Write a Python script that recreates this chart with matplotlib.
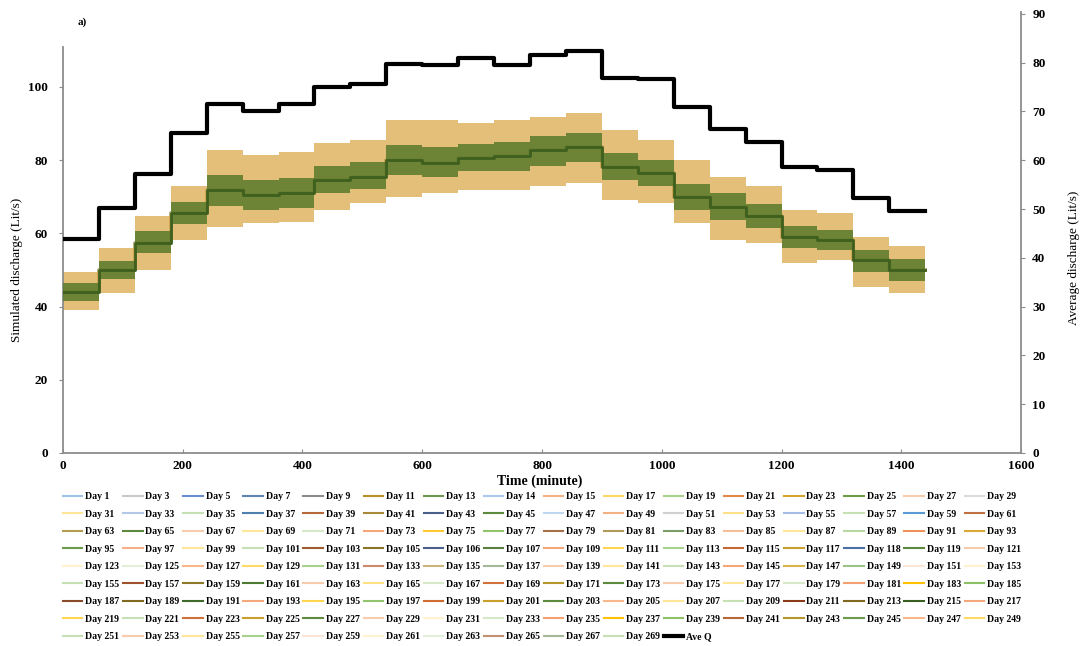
import matplotlib
matplotlib.use("Agg")
import matplotlib.pyplot as plt
import numpy as np

# ── Data (hourly blocks of the 24 h day) ──────────────────────────────────────
HOUR_EDGES = np.arange(0, 1441, 60)          # minute at which each hour starts (+ end)

# simulated discharge (Lit/s), spread across days per hour
SIM_LOW    = [39.1, 43.7, 50.0, 58.2, 61.8, 62.8, 63.2, 66.4, 68.3, 70.0, 71.0, 71.9,
              71.9, 72.8, 73.7, 69.1, 68.3, 62.8, 58.2, 57.4, 51.9, 52.7, 45.4, 43.6]
SIM_CORE_L = [41.5, 47.5, 54.5, 62.5, 67.5, 66.5, 67.0, 71.0, 72.0, 76.0, 75.5, 77.0,
              77.0, 78.5, 79.5, 74.5, 73.0, 66.5, 63.5, 61.5, 56.0, 55.5, 49.5, 47.0]
SIM_MEAN   = [44.1, 50.0, 57.4, 65.6, 71.9, 70.5, 71.0, 74.6, 75.5, 80.1, 79.2, 80.5,
              81.0, 82.8, 83.7, 78.2, 76.4, 70.0, 67.3, 64.6, 59.1, 58.2, 52.7, 50.0]
SIM_CORE_H = [46.5, 52.5, 60.5, 68.5, 76.0, 74.5, 75.0, 78.5, 79.5, 84.0, 83.5, 84.5,
              85.0, 86.5, 87.5, 82.0, 80.0, 73.5, 71.0, 68.0, 62.0, 61.0, 55.5, 53.0]
SIM_HIGH   = [49.5, 56.0, 64.6, 72.8, 82.8, 81.4, 82.3, 84.7, 85.5, 91.0, 91.0, 90.0,
              91.0, 91.9, 92.8, 88.3, 85.5, 80.0, 75.5, 72.8, 66.4, 65.5, 59.1, 56.4]

# average discharge (right axis)
AVE_Q = [43.9, 50.2, 57.1, 65.5, 71.5, 70.0, 71.5, 75.0, 75.7, 79.7, 79.5, 80.9,
         79.5, 81.5, 82.4, 76.9, 76.6, 71.0, 66.4, 63.8, 58.6, 58.0, 52.2, 49.5]

DAYS = list(range(1, 14, 2)) + [14] + list(range(15, 106, 2)) + [106] + \
       list(range(107, 118, 2)) + [118] + list(range(119, 270, 2))

# legend line colours, in legend (row-major) order
DAY_COLORS = [
    "#9DC3E6", "#C9C9C9", "#698ED0", "#5F86B0", "#8C8C8C", "#B8902A", "#6E9653", "#A9C8EC",
    "#F4B183", "#FFD966", "#A9D18E", "#E0884A", "#D4A52A", "#6F9A4A", "#F8CBAD", "#DBDBDB",
    "#FFE699", "#B4C7E7", "#C5E0B4", "#4F7FAE", "#B5683A", "#A8893A", "#4A5F8C", "#5E8A3E",
    "#BDD7EE", "#F4B183", "#D0D0D0", "#FFE08A", "#A4BCE6", "#C5E0B4", "#5B9BD5", "#C0703F",
    "#B39B4F", "#5E8A3E", "#F8CBAD", "#FFE699", "#D5E8C8", "#F4A77A", "#FFC933", "#92C46E",
    "#A9714A", "#B09A5A", "#7A9E68", "#F7BE9A", "#FFE699", "#B7D8A0", "#EE915A", "#D9A933",
    "#6D9B4C", "#F5B08A", "#FFE699", "#C5E0B4", "#9E5B2E", "#8C7427", "#4A5F8C", "#5B7F3F",
    "#F4A77A", "#FFD54F", "#A9D18E", "#C56A35", "#C9A02E", "#4A6FA5", "#5E8A3E", "#F8CBAD",
    "#FFF2CC", "#E2F0D9", "#F8B88B", "#FFD966", "#A9D18E", "#C98B6A", "#C9B47A", "#A4B89A",
    "#F8CBAD", "#FFE699", "#C5E0B4", "#F4A77A", "#D9B44A", "#9BC287", "#FBE5D6", "#FFF2CC",
    "#C5E0B4", "#A0522D", "#8C7A2A", "#4F7A33", "#F8CBAD", "#FFE082", "#D5E8C8", "#D0703A",
    "#B8962E", "#5E8A3E", "#F8CBAD", "#FFE699", "#D5E8C8", "#F4A070", "#FFC000", "#8CC168",
    "#8B4A2A", "#7F6A20", "#3F6A2A", "#F4A77A", "#FFD54F", "#92C46E", "#D06A30", "#C9A02E",
    "#5E8A3E", "#F8B88B", "#FFE699", "#C5E0B4", "#8B3A1A", "#7F6A20", "#3A5F22", "#F4A77A",
    "#FFD54F", "#C5E0B4", "#D0703A", "#C9A02E", "#5E8A3E", "#F8CBAD", "#FFF2CC", "#D5E8C8",
    "#F4A070", "#FFC000", "#8CC168", "#B5683A", "#B8962E", "#6D9B4C", "#F8B88B", "#FFD966",
    "#C5E0B4", "#F8CBAD", "#FFE699", "#A9D18E", "#FBE5D6", "#FFF2CC", "#E2F0D9", "#C09070",
    "#A4B89A", "#C5E0B4",
]

# ── Style ─────────────────────────────────────────────────────────────────────
SERIF = "Liberation Serif"
AXIS_GRAY = "#8C8C8C"
BAND_COLOR = "#D9A441"
CORE_COLOR = "#587A2C"
MEAN_COLOR = "#3E5F1E"

plt.rcParams["font.family"] = SERIF


def _ext(vals):
    # repeat last hour value so the step reaches minute 1440
    return list(vals) + [vals[-1]]


fig = plt.figure(figsize=(10.84, 6.46), dpi=100)
ax = fig.add_axes([0.0581, 0.2988, 0.8838, 0.6285])
ax2 = fig.add_axes([0.0581, 0.2988, 0.8838, 0.6827])

# day series (hourly mean of each day, they overlap)
handles = []
for day, color in zip(DAYS, DAY_COLORS):
    (h,) = ax.step(HOUR_EDGES, _ext(SIM_MEAN), where="post", color=color,
                   linewidth=1.5, zorder=1, label=f"Day {day}")
    handles.append(h)

# spread across days
ax.fill_between(HOUR_EDGES, _ext(SIM_LOW), _ext(SIM_HIGH), step="post",
                color=BAND_COLOR, alpha=0.7, linewidth=0, zorder=2)
ax.fill_between(HOUR_EDGES, _ext(SIM_CORE_L), _ext(SIM_CORE_H), step="post",
                color=CORE_COLOR, alpha=0.85, linewidth=0, zorder=3)
ax.step(HOUR_EDGES, _ext(SIM_MEAN), where="post", color=MEAN_COLOR,
        linewidth=2, zorder=4)

ax.set_xlim(0, 1600)
ax.set_ylim(0, 110.9)
ax.set_xticks(np.arange(0, 1601, 200))
ax.set_yticks(np.arange(0, 101, 20))
for s in ["top", "right"]:
    ax.spines[s].set_visible(False)
for s in ["left", "bottom"]:
    ax.spines[s].set_color(AXIS_GRAY)
    ax.spines[s].set_linewidth(1.3)
ax.tick_params(axis="x", direction="in", length=3, color=AXIS_GRAY, pad=5, labelsize=9.5)
ax.tick_params(axis="y", direction="out", length=3, color=AXIS_GRAY, pad=8, labelsize=9.5)
for lab in ax.get_xticklabels() + ax.get_yticklabels():
    lab.set_fontweight("bold")

# right axis: average discharge
(hq,) = ax2.step(HOUR_EDGES, _ext(AVE_Q), where="post", color="black",
                 linewidth=3, label="Ave Q", zorder=5)
ax2.set_xlim(0, 1600)
ax2.set_ylim(0, 90.4)
ax2.patch.set_alpha(0)
for s in ["top", "left", "bottom"]:
    ax2.spines[s].set_visible(False)
ax2.spines["right"].set_color(AXIS_GRAY)
ax2.spines["right"].set_linewidth(1.3)
ax2.set_xticks([])
ax2.yaxis.tick_right()
ax2.set_yticks(np.arange(0, 91, 10))
ax2.tick_params(axis="y", direction="out", length=3, color=AXIS_GRAY, pad=5, labelsize=9.5)
for lab in ax2.get_yticklabels():
    lab.set_fontweight("bold")

fig.text(540 / 1084, 1 - 481 / 646, "Time (minute)", ha="center", va="center",
         fontsize=10, fontweight="bold")
fig.text(17 / 1084, 1 - 270 / 646, "Simulated discharge (Lit/s)", ha="center",
         va="center", rotation=90, fontsize=9.5)
fig.text(1074 / 1084, 1 - 258 / 646, "Average discharge (Lit/s)", ha="center",
         va="center", rotation=90, fontsize=9.5)
fig.text(78 / 1084, 1 - 22 / 646, "a)", ha="left", va="center", fontsize=8,
         fontweight="bold")

# legend: 16 columns, filled row by row
all_h = handles + [hq]
ncol = 16
nrow = int(np.ceil(len(all_h) / ncol))
ordered = []
for c in range(ncol):
    for r in range(nrow):
        i = r * ncol + c
        if i < len(all_h):
            ordered.append(all_h[i])
leg = fig.legend(handles=ordered, labels=[h.get_label() for h in ordered],
                 loc="upper left", bbox_to_anchor=(0.058, 1 - 492 / 646),
                 ncol=ncol, frameon=False, borderpad=0, borderaxespad=0,
                 handlelength=2.0, handletextpad=0.3, columnspacing=0.37,
                 labelspacing=0.88, prop={"family": SERIF, "weight": "bold", "size": 7})

fig.savefig("out.png", dpi=100)
